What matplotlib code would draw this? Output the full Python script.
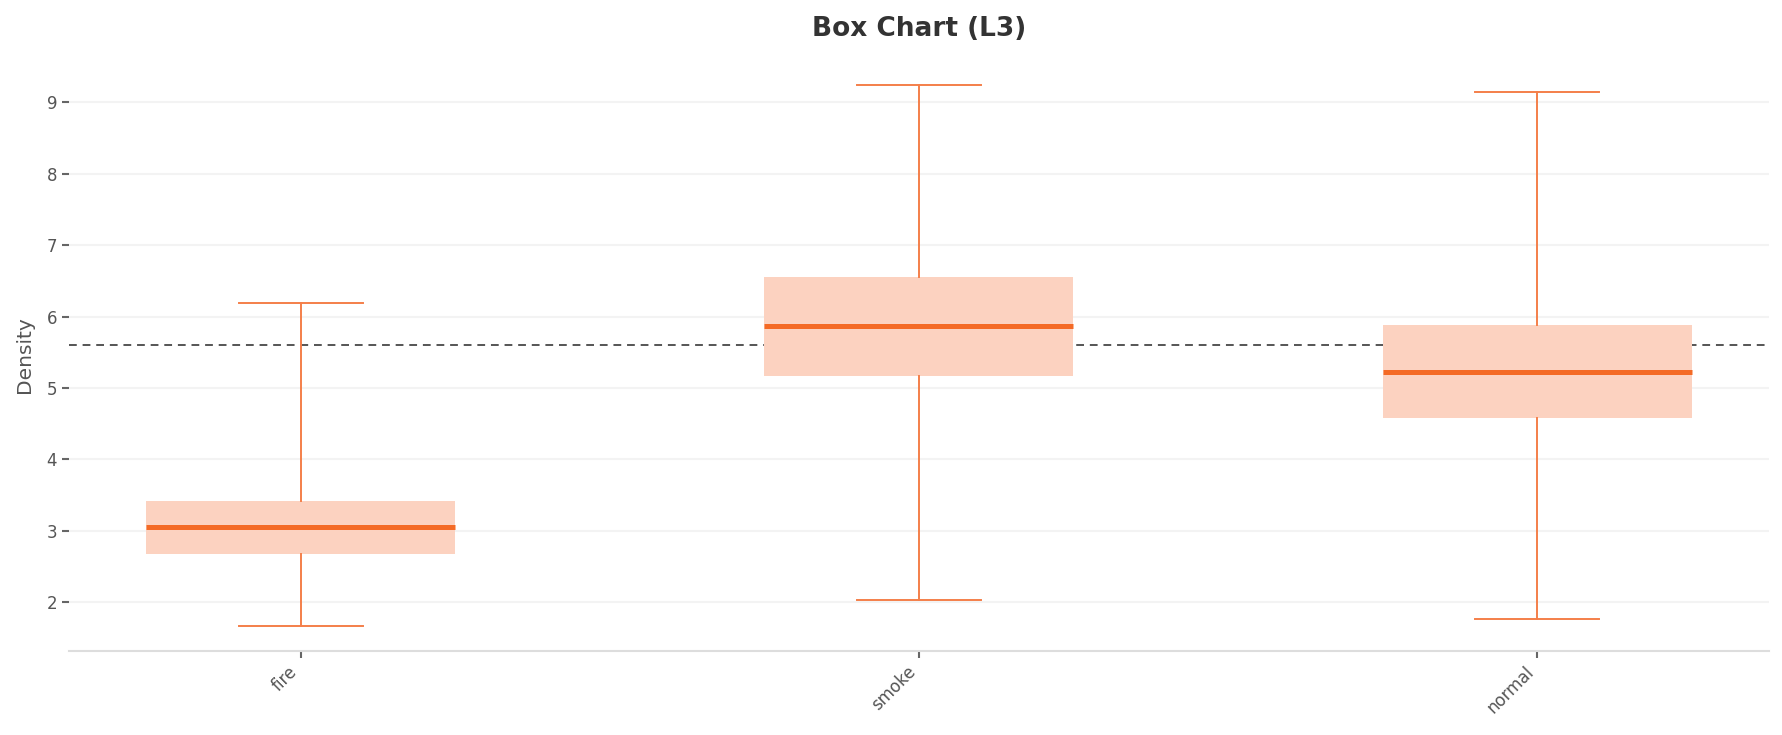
import matplotlib
matplotlib.use("Agg")
import matplotlib.pyplot as plt

categories = ["fire", "smoke", "normal"]
whislo = [1.67, 2.03, 1.76]
q1 = [2.68, 5.17, 4.58]
med = [3.05, 5.87, 5.22]
q3 = [3.41, 6.56, 5.88]
whishi = [6.19, 9.24, 9.14]
ref_value = 5.60

plt.rcParams["font.family"] = ["DejaVu Sans"]

fig = plt.figure(figsize=(17.83, 7.35), dpi=100)
ax = fig.add_axes([0.0387, 0.1147, 0.9534, 0.8063])

stats = []
for i, c in enumerate(categories):
    stats.append(dict(label=c, whislo=whislo[i], q1=q1[i], med=med[i],
                      q3=q3[i], whishi=whishi[i], fliers=[]))

ax.axhline(ref_value, color="#555555", lw=1.4, ls=(0, (4, 3)), zorder=1)

bp = ax.bxp(stats, positions=range(len(categories)), widths=0.5, capwidths=0.2,
            patch_artist=True, showfliers=False,
            boxprops=dict(facecolor="#FCD2C0", edgecolor="none"),
            medianprops=dict(color="#F46A25", linewidth=3.6),
            whiskerprops=dict(color="#F47F4A", linewidth=1.4),
            capprops=dict(color="#F47F4A", linewidth=1.4),
            zorder=3)

ax.set_xlim(-0.375, 2.375)
ax.set_ylim(1.32, 9.62)
ax.set_yticks([2, 3, 4, 5, 6, 7, 8, 9])
ax.set_xticks(range(len(categories)))
ax.set_xticklabels(categories, rotation=45, ha="right", rotation_mode="default")

ax.yaxis.grid(True, color="#F3F3F3", lw=1.5, zorder=0)
ax.set_axisbelow(True)
for s in ["top", "right", "left"]:
    ax.spines[s].set_visible(False)
ax.spines["bottom"].set_color("#DDDDDD")
ax.spines["bottom"].set_linewidth(1.5)

ax.tick_params(axis="both", colors="#666666", labelcolor="#555555", labelsize=12,
               length=5, width=1.5)

ax.set_ylabel("Density", fontsize=14.5, color="#555555", labelpad=9)
ax.set_title("Box Chart (L3)", fontsize=19, fontweight="bold", color="#333333", pad=16)

fig.savefig("out.png", dpi=100)
